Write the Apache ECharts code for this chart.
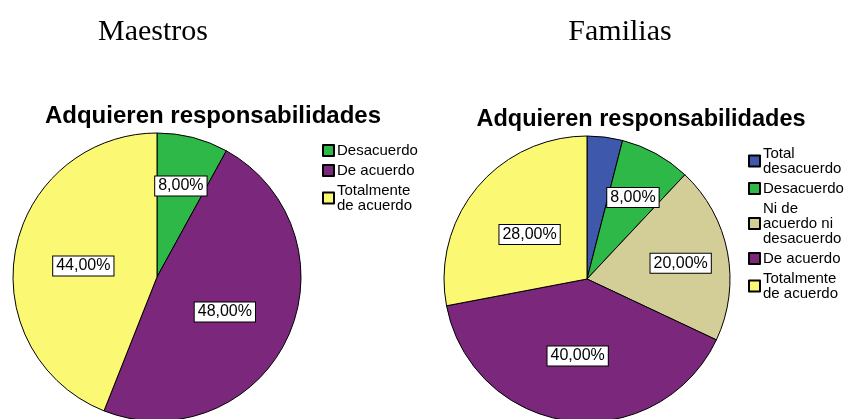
<!DOCTYPE html>
<html>
<head>
<meta charset="utf-8">
<script src="https://cdn.jsdelivr.net/npm/echarts@6/dist/echarts.min.js"></script>
<style>
html, body { margin: 0; padding: 0; background: #fff; }
#chart { width: 848px; height: 419px; }
</style>
</head>
<body>
<div id="chart"></div>
<script>
var categoriasMaestros = ['Desacuerdo', 'De acuerdo', 'Totalmente de acuerdo'];
var valoresMaestros = [8, 48, 44];
var categoriasFamilias = ['Total desacuerdo', 'Desacuerdo', 'Ni de acuerdo ni desacuerdo', 'De acuerdo', 'Totalmente de acuerdo'];
var valoresFamilias = [4, 8, 20, 40, 28];
var colores = {
    'Total desacuerdo': '#3e58ac',
    'Desacuerdo': '#2eb848',
    'Ni de acuerdo ni desacuerdo': '#d3ce97',
    'De acuerdo': '#7b277b',
    'Totalmente de acuerdo': '#fbf873'
};
var nombresLeyenda = {
    'Total desacuerdo': 'Total\ndesacuerdo',
    'Desacuerdo': 'Desacuerdo',
    'Ni de acuerdo ni desacuerdo': 'Ni de\nacuerdo ni\ndesacuerdo',
    'De acuerdo': 'De acuerdo',
    'Totalmente de acuerdo': 'Totalmente\nde acuerdo'
};

var sans = '"Liberation Sans", Arial, sans-serif';
var centros = [[157, 277], [587, 279]];

var armarDatos = function (cats, vals, sinEtiqueta) {
    return cats.map(function (c, i) {
        var d = {name: c, value: vals[i], itemStyle: {color: colores[c]}};
        if (sinEtiqueta.indexOf(c) >= 0) {
            d.label = {show: false};
        }
        return d;
    });
};

var etiqueta = {
    show: true,
    position: 'inside',
    formatter: function (p) {
        return p.value.toFixed(2).replace('.', ',') + '%';
    },
    color: '#000',
    fontFamily: sans,
    fontSize: 16,
    lineHeight: 16,
    backgroundColor: '#fff',
    borderColor: '#000',
    borderWidth: 1,
    padding: [2, 3, 1, 3]
};

// las etiquetas de porciones chicas van mas hacia afuera, como en SPSS
var moverEtiqueta = function (params) {
    var serie = params.seriesIndex;
    var valor = serie === 0 ? valoresMaestros[params.dataIndex] : valoresFamilias[params.dataIndex];
    var factor = valor < 25 ? 1.28 : 1.0;
    var c = centros[serie];
    var lx = params.labelRect.x + params.labelRect.width / 2;
    var ly = params.labelRect.y + params.labelRect.height / 2;
    return {dx: (lx - c[0]) * (factor - 1), dy: (ly - c[1]) * (factor - 1) + (valor < 25 ? 2 : 3)};
};

var leyenda = function (left, top, cats) {
    return {
        orient: 'vertical',
        left: left,
        top: top,
        data: cats,
        icon: 'rect',
        itemWidth: 11,
        itemHeight: 11,
        itemGap: 5,
        selectedMode: false,
        formatter: function (n) { return nombresLeyenda[n]; },
        textStyle: {fontFamily: sans, fontSize: 15, lineHeight: 15, color: '#000', padding: [0, 0, 0, -2]}
    };
};

var chart = echarts.init(document.getElementById('chart'));
var option = {
    animation: false,
    title: [
        {text: 'Maestros', left: 148, top: 12, textAlign: 'center',
            textStyle: {fontFamily: '"Liberation Serif", "Times New Roman", serif', fontWeight: 'normal', fontSize: 30, color: '#000'}},
        {text: 'Familias', left: 615, top: 12, textAlign: 'center',
            textStyle: {fontFamily: '"Liberation Serif", "Times New Roman", serif', fontWeight: 'normal', fontSize: 30, color: '#000'}},
        {text: 'Adquieren responsabilidades', left: 208, top: 99, textAlign: 'center',
            textStyle: {fontFamily: sans, fontWeight: 'bold', fontSize: 24, color: '#000'}},
        {text: 'Adquieren responsabilidades', left: 636, top: 103, textAlign: 'center',
            textStyle: {fontFamily: sans, fontWeight: 'bold', fontSize: 23.5, color: '#000'}}
    ],
    legend: [
        leyenda(317, 138, categoriasMaestros),
        leyenda(743, 141, categoriasFamilias)
    ],
    series: [
        {
            name: 'Maestros',
            type: 'pie',
            center: centros[0],
            radius: 144,
            startAngle: 90,
            clockwise: true,
            itemStyle: {borderColor: '#000', borderWidth: 1},
            label: etiqueta,
            labelLine: {show: false},
            labelLayout: moverEtiqueta,
            emphasis: {disabled: true},
            data: armarDatos(categoriasMaestros, valoresMaestros, [])
        },
        {
            name: 'Familias',
            type: 'pie',
            center: centros[1],
            radius: 143,
            startAngle: 90,
            clockwise: true,
            itemStyle: {borderColor: '#000', borderWidth: 1},
            label: etiqueta,
            labelLine: {show: false},
            labelLayout: moverEtiqueta,
            emphasis: {disabled: true},
            data: armarDatos(categoriasFamilias, valoresFamilias, ['Total desacuerdo'])
        }
    ]
};
chart.setOption(option);
</script>
</body>
</html>
